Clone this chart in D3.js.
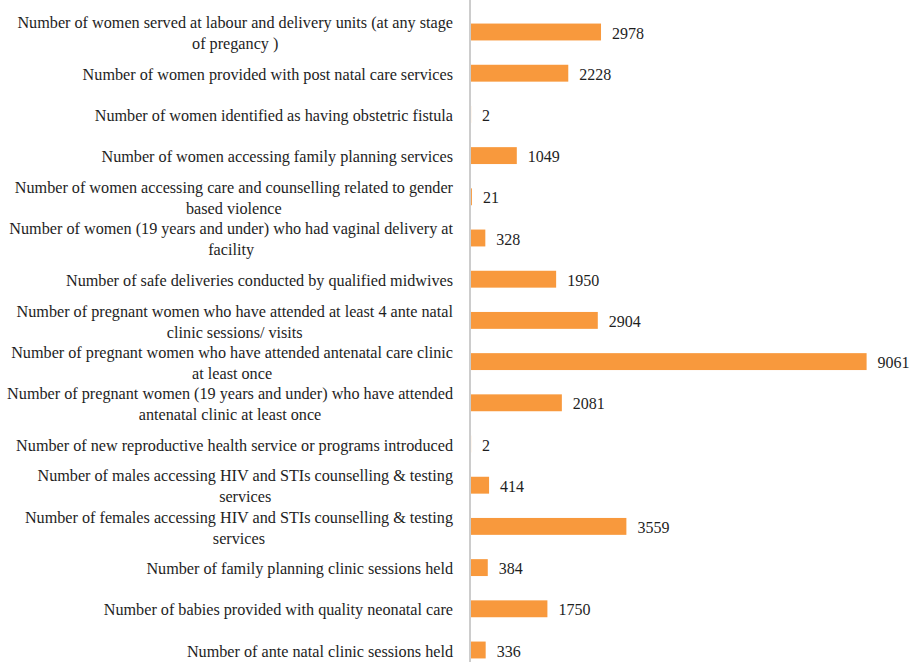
<!DOCTYPE html>
<html>
<head>
<meta charset="utf-8">
<script src="https://cdn.jsdelivr.net/npm/d3@7"></script>
<style>
  body { margin: 0; background: #fff; }
  text { font-family: "Liberation Serif", "Times New Roman", serif; fill: #1e1e1e; }
</style>
</head>
<body>
<div id="chart"></div>
<script>
// categories (label lines) top to bottom
var categories = [
  ["Number of women served at labour and delivery units (at any stage", "of pregancy )"],
  ["Number of women provided with post natal care services"],
  ["Number of women identified as having obstetric fistula"],
  ["Number of women accessing family planning services"],
  ["Number of women accessing care and counselling related to gender", "based violence"],
  ["Number of women (19 years and under) who had vaginal delivery at", "facility"],
  ["Number of safe deliveries conducted by qualified midwives"],
  ["Number of pregnant women who have attended at least 4 ante natal", "clinic sessions/ visits"],
  ["Number of pregnant women who have attended antenatal care clinic", "at least once"],
  ["Number of pregnant women (19 years and under) who have attended", "antenatal clinic at least once"],
  ["Number of new reproductive health service or programs introduced"],
  ["Number of males accessing HIV and STIs counselling & testing", "services"],
  ["Number of females accessing HIV and STIs counselling & testing", "services"],
  ["Number of family planning clinic sessions held"],
  ["Number of babies provided with quality neonatal care"],
  ["Number of ante natal clinic sessions held"]
];
var values = [2978, 2228, 2, 1049, 21, 328, 1950, 2904, 9061, 2081, 2, 414, 3559, 384, 1750, 336];

var width = 910, height = 662;
var axisX = 470, labelRight = 453;

var data = categories.map(function(c, i) { return { id: i, lines: c, value: values[i] }; });

var svg = d3.select("#chart").append("svg")
    .attr("width", width)
    .attr("height", height);

var y = d3.scaleBand()
    .domain(data.map(function(d) { return d.id; }))
    .range([11.4, 670.6])
    .paddingInner(0.59)
    .paddingOuter(0.295);

var x = d3.scaleLinear()
    .domain([0, 9061])
    .range([axisX + 1, 866.6]);

// bars
svg.selectAll("rect.bar")
    .data(data)
    .enter().append("rect")
    .attr("class", "bar")
    .attr("x", x(0))
    .attr("y", function(d) { return y(d.id); })
    .attr("width", function(d) { return x(d.value) - x(0); })
    .attr("height", y.bandwidth())
    .style("fill", "#f8993d");

// vertical axis line
svg.append("line")
    .attr("x1", axisX).attr("x2", axisX)
    .attr("y1", 0).attr("y2", height)
    .style("stroke", "#9a9a9a")
    .style("stroke-width", 1);

// value labels
svg.selectAll("text.val")
    .data(data)
    .enter().append("text")
    .attr("class", "val")
    .attr("x", function(d) { return x(d.value) + 11; })
    .attr("y", function(d) { return y(d.id) + y.bandwidth() / 2 + 1; })
    .attr("dy", "0.35em")
    .style("font-size", "16px")
    .text(function(d) { return d.value; });

// category labels, multi-line ones centred on each other
var lineH = 21;
var groups = svg.selectAll("g.lab")
    .data(data)
    .enter().append("g")
    .attr("class", "lab");

groups.each(function(d) {
    var g = d3.select(this);
    var cy = y(d.id) + y.bandwidth() / 2 + 1;
    var n = d.lines.length;
    var texts = g.selectAll("text")
        .data(d.lines)
        .enter().append("text")
        .attr("y", function(l, i) { return cy + (i - (n - 1) / 2) * lineH; })
        .attr("dy", "0.35em")
        .style("font-size", "16.2px")
        .text(function(l) { return l; });
    var maxW = 0;
    texts.each(function() { maxW = Math.max(maxW, this.getComputedTextLength()); });
    texts.attr("x", labelRight - maxW / 2).style("text-anchor", "middle");
});
</script>
</body>
</html>
